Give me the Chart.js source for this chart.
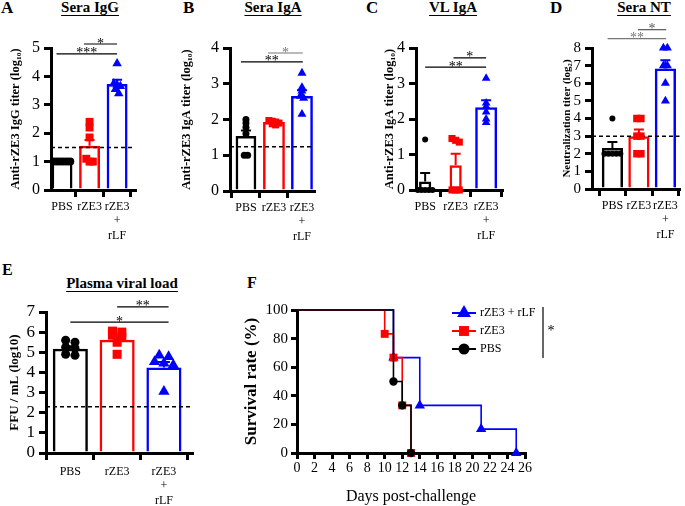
<!DOCTYPE html>
<html><head><meta charset="utf-8">
<script src="https://cdn.jsdelivr.net/npm/chart.js@4.4.1/dist/chart.umd.min.js"></script>
<style>
body{margin:0;background:#fff;}
#wrap{position:relative;width:685px;height:506px;overflow:hidden;background:#fff;font-family:'Liberation Serif','Times New Roman',serif;color:#000;}
canvas{position:absolute;}
.lbl{position:absolute;font-weight:bold;font-size:17px;line-height:1;}
.ttl{position:absolute;font-weight:bold;font-size:15px;line-height:1;text-decoration:underline;text-decoration-thickness:1px;text-underline-offset:3px;transform:translateX(-50%);white-space:nowrap;}
</style></head>
<body><div id="wrap">
<div class="lbl" style="left:1px;top:-1px">A</div>
<div class="lbl" style="left:183px;top:-1px">B</div>
<div class="lbl" style="left:366px;top:-1px">C</div>
<div class="lbl" style="left:550px;top:-1px">D</div>
<div class="lbl" style="left:2px;top:262px;font-size:16px">E</div>
<div class="lbl" style="left:247px;top:275px;font-size:16px">F</div>
<div class="ttl" style="left:90px;top:0px">Sera IgG</div>
<div class="ttl" style="left:273px;top:0px">Sera IgA</div>
<div class="ttl" style="left:453px;top:0px">VL IgA</div>
<div class="ttl" style="left:644px;top:0px">Sera NT</div>
<div class="ttl" style="left:122px;top:276px">Plasma viral load</div>
</div>
<script>
// ---------------- DATA ----------------
const groups = ['PBS', 'rZE3', 'rZE3 + rLF'];
const groupTickLabels = ['PBS', 'rZE3', ['rZE3', '+', 'rLF']];

// A: Sera IgG (log10)
const igG_PBS  = [1, 1, 1, 1, 1, 1];
const igG_rZE3 = [2.4, 2.2, 1.85, 1.1, 1.0, 1.0];
const igG_rLF  = [4.45, 3.75, 3.7, 3.65, 3.55, 3.4];
const igG_mean = [1.0, 1.56, 3.73];
const igG_sem  = [0, 0.2, 0.15];
const igG_limit = 1.5;
const igG_sig = [{pair: [0, 2], label: '***'}, {pair: [1, 2], label: '*'}];

// B: Sera IgA (log10)
const seraIgA_PBS  = [2.0, 1.9, 1.78, 1.6, 1.0, 1.0];
const seraIgA_rZE3 = [1.97, 1.95, 1.93, 1.9, 1.88, 1.85];
const seraIgA_rLF  = [3.3, 2.9, 2.8, 2.65, 2.6, 2.15];
const seraIgA_mean = [1.54, 1.93, 2.66];
const seraIgA_sem  = [0.15, 0.02, 0.16];
const seraIgA_limit = 1.24;
const seraIgA_sig = [{pair: [0, 2], label: '**'}, {pair: [1, 2], label: '*'}];

// C: VL IgA (log10)
const vlIgA_PBS  = [1.42, 0, 0, 0, 0, 0];
const vlIgA_rZE3 = [1.45, 1.4, 1.35, 0, 0, 0];
const vlIgA_rLF  = [3.15, 2.45, 2.35, 2.2, 2.0, 1.9];
const vlIgA_mean = [0.24, 0.7, 2.33];
const vlIgA_sem  = [0.24, 0.32, 0.2];
const vlIgA_sig = [{pair: [0, 2], label: '**'}, {pair: [1, 2], label: '*'}];

// D: Sera NT (log2)
const nt_PBS  = [4, 2, 2, 2, 2, 2];
const nt_rZE3 = [4, 4, 3, 3, 2, 2];
const nt_rLF  = [8, 8, 7, 7, 6, 5];
const nt_mean = [2.33, 3.0, 6.83];
const nt_sem  = [0.33, 0.37, 0.48];
const nt_limit = 3;
const nt_sig = [{pair: [0, 2], label: '**'}, {pair: [1, 2], label: '*'}];

// E: Plasma viral load (FFU/mL, log10)
const vl_PBS  = [5.6, 5.5, 5.25, 5.2, 4.9, 4.85];
const vl_rZE3 = [6.05, 6.0, 5.85, 5.75, 5.5, 4.9];
const vl_rLF  = [4.85, 4.78, 4.53, 4.45, 4.37, 3.05];
const vl_mean = [5.17, 5.62, 4.25];
const vl_sem  = [0.13, 0.17, 0.27];
const vl_limit = 2.3;
const vl_sig = [{pair: [0, 2], label: '*'}, {pair: [1, 2], label: '**'}];

// F: Survival (Kaplan-Meier)
const surv_days_PBS  = [0, 11, 12, 13];
const surv_pct_PBS   = [100, 50, 33.3, 0];
const surv_days_rZE3 = [0, 10, 11, 12, 13];
const surv_pct_rZE3  = [100, 83.3, 66.7, 33.3, 0];
const surv_days_rLF  = [0, 11, 14, 21, 25];
const surv_pct_rLF   = [100, 66.7, 33.3, 16.7, 0];
const surv_sig = '*';

// ---------------- STYLE ----------------
const FONT = "'Liberation Serif','Times New Roman',serif";
const RED = '#ff0000', BLUE = '#0000ff', BLACK = '#000000', GRAY = '#777777';
const groupColors = [BLACK, RED, BLUE];
const groupShapes = ['circle', 'rect', 'triangle'];
Chart.defaults.font.family = FONT;
Chart.defaults.color = '#000';
Chart.defaults.animation = false;

const wrap = document.getElementById('wrap');
function makeCanvas(r) {
  const c = document.createElement('canvas');
  c.width = r.w; c.height = r.h;
  c.style.left = r.l + 'px'; c.style.top = r.t + 'px';
  c.style.width = r.w + 'px'; c.style.height = r.h + 'px';
  wrap.appendChild(c);
  return c;
}
function gridStyle(tl) {
  return {display: true, drawOnChartArea: false, drawTicks: true, tickLength: tl, lineWidth: 3, color: '#000'};
}
const borderStyle = {display: true, width: 3, color: '#000'};

// spread points that share (nearly) the same value side by side
function clusterOffsets(values, tol, spread) {
  const idx = values.map((v, i) => i).sort((a, b) => values[b] - values[a]);
  const offs = new Array(values.length).fill(0);
  let i = 0;
  while (i < idx.length) {
    let j = i + 1;
    while (j < idx.length && values[idx[i]] - values[idx[j]] <= tol) j++;
    const n = j - i;
    for (let k = 0; k < n; k++) offs[idx[i + k]] = (k - (n - 1) / 2) * spread;
    i = j;
  }
  return offs;
}

function annotPlugin(p) {
  return {
    id: 'annot',
    beforeDatasetsDraw(chart) {
      const ctx = chart.ctx, x = chart.scales.x, y = chart.scales.y;
      ctx.save();
      p.means.forEach((m, g) => {
        const s = p.sems[g]; if (!s) return;
        const px = x.getPixelForValue(g), y0 = y.getPixelForValue(m), y1 = y.getPixelForValue(m + s);
        ctx.strokeStyle = groupColors[g]; ctx.lineWidth = 2;
        ctx.beginPath(); ctx.moveTo(px, y0); ctx.lineTo(px, y1);
        ctx.moveTo(px - p.cap, y1); ctx.lineTo(px + p.cap, y1); ctx.stroke();
      });
      ctx.restore();
    },
    afterDatasetsDraw(chart) {
      const ctx = chart.ctx, x = chart.scales.x, y = chart.scales.y;
      ctx.save();
      p.sig.forEach((b, k) => {
        const L = p.sigLayout[k];
        const x1 = x.getPixelForValue(b.pair[0] + L.d0), x2 = x.getPixelForValue(b.pair[1] + L.d1);
        const yy = y.getPixelForValue(L.level);
        ctx.strokeStyle = L.color; ctx.lineWidth = 1.2;
        ctx.beginPath(); ctx.moveTo(x1, yy); ctx.lineTo(x2, yy); ctx.stroke();
        ctx.fillStyle = L.color; ctx.font = '14px ' + FONT;
        ctx.textAlign = 'center'; ctx.textBaseline = 'alphabetic';
        ctx.fillText(b.label, (x1 + x2) / 2, yy + 3.5);
      });
      ctx.restore();
    }
  };
}

function barPanel(p) {
  const cv = makeCanvas(p.rect);
  const datasets = [];
  p.points.forEach((vals, g) => {
    const offs = clusterOffsets(vals, p.tol, p.spread);
    datasets.push({
      type: 'scatter', data: vals.map((v, i) => ({x: g + offs[i], y: v})),
      pointStyle: groupShapes[g], pointRadius: p.radius[g], backgroundColor: groupColors[g],
      borderColor: groupColors[g], borderWidth: 0, clip: false, order: 1
    });
  });
  if (p.limit != null) {
    datasets.push({
      type: 'line', showLine: true, data: [{x: p.xMin, y: p.limit}, {x: p.xMax, y: p.limit}],
      borderColor: '#000', borderWidth: 1.5, borderDash: [4, 3], pointRadius: 0, order: 2
    });
  }
  p.means.forEach((m, g) => {
    datasets.push({
      type: 'bar', data: [{x: g, y: m}], backgroundColor: 'rgba(255,255,255,0)',
      borderColor: groupColors[g], borderWidth: 2.5, borderSkipped: 'start', grouped: false,
      barPercentage: p.barPct[g], categoryPercentage: 1, order: 3
    });
  });
  new Chart(cv, {
    type: 'scatter',
    data: {datasets},
    options: {
      responsive: false, animation: false, devicePixelRatio: 1, events: [],
      layout: {padding: {left: 0, top: p.area.t - p.rect.t, right: p.rect.l + p.rect.w - p.area.r, bottom: 0}},
      plugins: {legend: {display: false}, tooltip: {enabled: false}},
      scales: {
        x: {
          type: 'linear', min: p.xMin, max: p.xMax, bounds: 'data', offset: false,
          afterBuildTicks: s => { s.ticks = [0, 1, 2].map(v => ({value: v})); },
          afterFit: s => { s.height = p.rect.t + p.rect.h - p.area.b; },
          ticks: {callback: (v, i) => groupTickLabels[i], font: {family: FONT, size: 12, lineHeight: 1.18},
                  color: '#000', maxRotation: 0, minRotation: 0, autoSkip: false, padding: p.catPad},
          grid: gridStyle(7), border: borderStyle
        },
        y: {
          type: 'linear', min: 0, max: p.yMax, bounds: 'data',
          afterFit: s => { s.width = p.area.l - p.rect.l; },
          ticks: {stepSize: 1, autoSkip: false, font: {family: FONT, size: p.numFont}, color: '#000', padding: 4},
          grid: gridStyle(7), border: borderStyle,
          title: {display: true, text: p.yTitle, color: '#000',
                  font: {family: FONT, size: p.yTitleSize, weight: 'bold'}, padding: {top: p.yTitlePad, bottom: 0}}
        }
      }
    },
    plugins: [annotPlugin(p)]
  });
}

// ---------------- PANELS A-E ----------------
barPanel({
  rect: {l: 0, t: 22, w: 168, h: 228}, area: {l: 51, t: 48, r: 135, b: 190},
  xMin: -0.4, xMax: 2.65, yMax: 5, points: [igG_PBS, igG_rZE3, igG_rLF],
  means: igG_mean, sems: igG_sem, limit: igG_limit, sig: igG_sig,
  sigLayout: [{level: 4.79, d0: -0.2, d1: 0, color: BLACK}, {level: 5.14, d0: -0.2, d1: 0, color: BLACK}],
  radius: [4, 5.6, 5.5], tol: 0.15, spread: 0.12, barPct: [0.76, 0.76, 0.76],
  numFont: 16, catPad: 3, cap: 5,
  yTitle: 'Anti-rZE3 IgG titer (log₁₀)', yTitleSize: 12.5, yTitlePad: 8.5
});
barPanel({
  rect: {l: 170, t: 22, w: 168, h: 228}, area: {l: 230, t: 48, r: 314, b: 191},
  xMin: -0.57, xMax: 2.43, yMax: 4, points: [seraIgA_PBS, seraIgA_rZE3, seraIgA_rLF],
  means: seraIgA_mean, sems: seraIgA_sem, limit: seraIgA_limit, sig: seraIgA_sig,
  sigLayout: [{level: 3.61, d0: -0.18, d1: 0.03, color: BLACK}, {level: 3.86, d0: -0.21, d1: 0.03, color: GRAY}],
  radius: [3.5, 5, 5.2], tol: 0.08, spread: 0.12, barPct: [0.74, 0.78, 0.78],
  numFont: 16, catPad: 3, cap: 5,
  yTitle: 'Anti-rZE3 IgA titer (log₁₀)', yTitleSize: 12.5, yTitlePad: 9.5
});
barPanel({
  rect: {l: 340, t: 22, w: 168, h: 228}, area: {l: 416, t: 48, r: 502, b: 190},
  xMin: -0.3, xMax: 2.52, yMax: 4, points: [vlIgA_PBS, vlIgA_rZE3, vlIgA_rLF],
  means: vlIgA_mean, sems: vlIgA_sem, limit: null, sig: vlIgA_sig,
  sigLayout: [{level: 3.46, d0: 0, d1: 0, color: BLACK}, {level: 3.72, d0: -0.07, d1: 0, color: BLACK}],
  radius: [3, 5, 5], tol: 0.1, spread: 0.12, barPct: [0.4, 0.4, 0.72],
  numFont: 16, catPad: 3, cap: 5,
  yTitle: 'Anti-rZE3 IgA titer (log₁₀)', yTitleSize: 12.5, yTitlePad: 42.5
});
barPanel({
  rect: {l: 510, t: 14, w: 175, h: 236}, area: {l: 592, t: 48, r: 684, b: 189},
  xMin: -0.77, xMax: 2.54, yMax: 8, points: [nt_PBS, nt_rZE3, nt_rLF],
  means: nt_mean, sems: nt_sem, limit: nt_limit, sig: nt_sig,
  sigLayout: [{level: 8.53, d0: -0.18, d1: 0.03, color: GRAY}, {level: 9.04, d0: -0.04, d1: 0.03, color: '#555555'}],
  radius: [3, 5.3, 5.2], tol: 0.1, spread: 0.15, barPct: [0.8, 0.8, 0.8],
  numFont: 15, catPad: 3, cap: 5,
  yTitle: 'Neutralization titer (log₂)', yTitleSize: 11, yTitlePad: 50.4
});
barPanel({
  rect: {l: 0, t: 292, w: 210, h: 214}, area: {l: 46, t: 312, r: 192, b: 453},
  xMin: -0.52, xMax: 2.6, yMax: 7, points: [vl_PBS, vl_rZE3, vl_rLF],
  means: vl_mean, sems: vl_sem, limit: vl_limit, sig: vl_sig,
  sigLayout: [{level: 6.5, d0: 0, d1: 0.1, color: BLACK}, {level: 7.25, d0: 0, d1: 0.1, color: BLACK}],
  radius: [4.5, 6.4, 6.5], tol: 0.2, spread: 0.2, barPct: [0.75, 0.75, 0.75],
  numFont: 17, catPad: 5, cap: 6,
  yTitle: 'FFU / mL (log10)', yTitleSize: 13, yTitlePad: 7.2
});

// ---------------- PANEL F ----------------
(function () {
  const rect = {l: 235, t: 292, w: 330, h: 214}, area = {l: 297, t: 310, r: 525, b: 453};
  const cv = makeCanvas(rect);
  const series = [
    {label: 'PBS', days: surv_days_PBS, pct: surv_pct_PBS, color: BLACK, shape: 'circle', r: 4.2, lr: 5.5},
    {label: 'rZE3', days: surv_days_rZE3, pct: surv_pct_rZE3, color: RED, shape: 'rect', r: 5.6, lr: 7},
    {label: 'rZE3 + rLF', days: surv_days_rLF, pct: surv_pct_rLF, color: BLUE, shape: 'triangle', r: 6, lr: 8}
  ];
  const datasets = series.map(s => ({
    label: s.label, data: s.days.map((d, i) => ({x: d, y: s.pct[i]})),
    showLine: true, stepped: true, borderColor: s.color, backgroundColor: s.color,
    borderWidth: 1.6, pointStyle: s.shape, pointBorderWidth: 0,
    pointRadius: c => c.dataIndex === 0 ? 0 : s.r, clip: false
  }));
  const legendPlugin = {
    id: 'kmLegend',
    afterDraw(chart) {
      const ctx = chart.ctx;
      const ox = rect.l, oy = rect.t;
      const rows = [series[2], series[1], series[0]];
      const ys = [313, 331, 349];
      ctx.save();
      rows.forEach((s, k) => {
        const y = ys[k] - oy;
        ctx.strokeStyle = s.color; ctx.fillStyle = s.color; ctx.lineWidth = 2;
        ctx.beginPath(); ctx.moveTo(452 - ox, y); ctx.lineTo(476 - ox, y); ctx.stroke();
        Chart.helpers.drawPoint(ctx, {pointStyle: s.shape, radius: s.lr, rotation: 0, borderWidth: 0}, 464 - ox, y);
        ctx.fillStyle = '#000'; ctx.font = '12px ' + FONT; ctx.textAlign = 'left'; ctx.textBaseline = 'middle';
        ctx.fillText(s.label, 480 - ox, y);
      });
      ctx.strokeStyle = '#000'; ctx.lineWidth = 1.2;
      ctx.beginPath(); ctx.moveTo(543 - ox, 307 - oy); ctx.lineTo(543 - ox, 358 - oy); ctx.stroke();
      ctx.fillStyle = '#000'; ctx.font = '14px ' + FONT; ctx.textAlign = 'center'; ctx.textBaseline = 'alphabetic';
      ctx.fillText(surv_sig, 551 - ox, 335 - oy);
      ctx.restore();
    }
  };
  new Chart(cv, {
    type: 'scatter',
    data: {datasets},
    options: {
      responsive: false, animation: false, devicePixelRatio: 1, events: [],
      layout: {padding: {left: 0, top: area.t - rect.t, right: rect.l + rect.w - area.r, bottom: 0}},
      plugins: {legend: {display: false}, tooltip: {enabled: false}},
      scales: {
        x: {
          type: 'linear', min: 0, max: 26, bounds: 'data',
          afterFit: s => { s.height = rect.t + rect.h - area.b; },
          ticks: {stepSize: 2, font: {family: FONT, size: 14}, color: '#000', maxRotation: 0, minRotation: 0, autoSkip: false, padding: 1},
          grid: gridStyle(6), border: borderStyle,
          title: {display: true, text: 'Days post-challenge', color: '#000', font: {family: FONT, size: 16}, padding: {top: 0, bottom: 0}}
        },
        y: {
          type: 'linear', min: 0, max: 100, bounds: 'data',
          afterFit: s => { s.width = area.l - rect.l; },
          ticks: {stepSize: 20, autoSkip: false, font: {family: FONT, size: 15}, color: '#000', padding: 3},
          grid: gridStyle(6), border: borderStyle,
          title: {display: true, text: 'Survival rate (%)', color: '#000', font: {family: FONT, size: 17, weight: 'bold'}, padding: {top: 6.8, bottom: 0}}
        }
      }
    },
    plugins: [legendPlugin]
  });
})();
</script>
</body></html>
